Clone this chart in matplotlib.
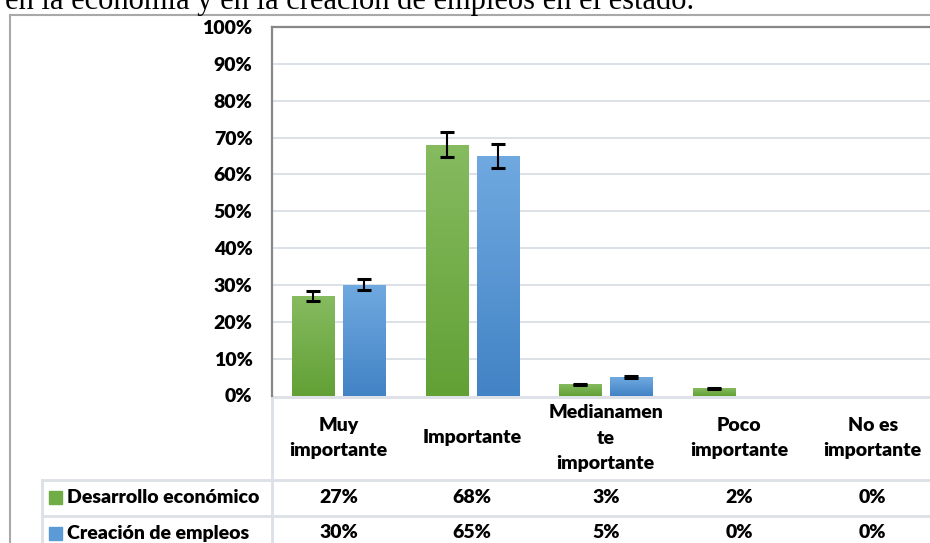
import numpy as np
import matplotlib
matplotlib.use("Agg")
import matplotlib.pyplot as plt
from matplotlib.colors import LinearSegmentedColormap
from matplotlib.transforms import blended_transform_factory

# data (percent)
categorias = ["Muy\nimportante", "Importante", "Medianamen\nte\nimportante",
              "Poco\nimportante", "No es\nimportante"]
series = ["Desarrollo económico", "Creación de empleos"]
desarrollo = [27, 68, 3, 2, 0]
empleos = [30, 65, 5, 0, 0]
err_desarrollo = [1.4, 3.4, 0.2, 0.15, 0]
err_empleos = [1.5, 3.3, 0.3, 0, 0]
titulo = "en la economía y en la creación de empleos en el estado."

W, H = 930, 543
fig = plt.figure(figsize=(W / 100, H / 100), dpi=100)
plt.rcParams["font.family"] = ["Lato", "DejaVu Sans"]
FS = 14

# overlay in pixel coordinates for the frame and the data table
ov = fig.add_axes([0, 0, 1, 1])
ov.set_xlim(0, W)
ov.set_ylim(H, 0)
ov.axis("off")

# plot area (extends past the right edge like the cropped original)
left, right, top, bottom = 272, 939.5, 27, 395.5
ax = fig.add_axes([left / W, (H - bottom) / H, (right - left) / W, (bottom - top) / H])
ax.patch.set_alpha(0)

x = np.arange(len(categorias))
bw = 0.315
off = 0.19
green = LinearSegmentedColormap.from_list("g", ["#62A035", "#86BB60"])
blue = LinearSegmentedColormap.from_list("b", ["#4283C5", "#70A9E0"])
grad = np.linspace(0, 1, 256).reshape(-1, 1)

b1 = ax.bar(x - off, desarrollo, bw, color="#70AD47", zorder=2)
b2 = ax.bar(x + off, empleos, bw, color="#5B9BD5", zorder=2)
for bars, cmap in [(b1, green), (b2, blue)]:
    for b in bars:
        if b.get_height() > 0:
            ax.imshow(grad, cmap=cmap, origin="lower", aspect="auto", zorder=3,
                      extent=[b.get_x(), b.get_x() + b.get_width(), 0, b.get_height()])

for vals, errs, xs in [(desarrollo, err_desarrollo, x - off), (empleos, err_empleos, x + off)]:
    for xi, v, e in zip(xs, vals, errs):
        if v > 0:
            ax.errorbar(xi, v, yerr=e, fmt="none", ecolor="black", elinewidth=1.5,
                        capsize=4.7, capthick=2.2, zorder=4)

ax.set_xlim(-0.5, 4.5)
ax.set_ylim(0, 100)
ax.set_yticks(range(0, 101, 10))
ax.set_yticklabels([f"{t}%" for t in range(0, 101, 10)], fontsize=FS, fontweight="heavy")
ax.tick_params(axis="y", length=0, pad=14)
ax.set_xticks([])
for t in range(10, 100, 10):
    ax.axhline(t, color="#DCE0E7", lw=1.4, zorder=1)
for s in ["right", "bottom"]:
    ax.spines[s].set_visible(False)
for s in ["left", "top"]:
    ax.spines[s].set_color("#878787")
    ax.spines[s].set_linewidth(1.6)

# outer frame
ov.plot([10, 10], [15, H], color="#A9A9A9", lw=1.5)
ov.plot([10, W], [15, 15], color="#A9A9A9", lw=1.5)

# title text, cropped at the top
ov.text(5, 9.5, titulo, family="Liberation Serif", fontsize=22, va="baseline",
        ha="left", color="black")

# data table
tc = "#DCE0E7"
ov.plot([left, W], [396.5, 396.5], color=tc, lw=2)
ov.plot([42, W], [480, 480], color=tc, lw=2)
ov.plot([42, W], [515.5, 515.5], color=tc, lw=2)
ov.plot([left, left], [396, H], color=tc, lw=2)
ov.plot([42, 42], [480, H], color=tc, lw=2)

tr = blended_transform_factory(ax.transData, ov.transData)
for xi, cat in zip(x, categorias):
    ov.text(xi, 438, cat, transform=tr, ha="center", va="center", fontsize=FS,
            fontweight="heavy", linespacing=1.6)
rows_y = [497.5, 533]
colors = ["#70AD47", "#5B9BD5"]
for ry, name, vals, c in zip(rows_y, series, [desarrollo, empleos], colors):
    ov.add_patch(plt.Rectangle((49, ry - 6.5), 13, 13, color=c))
    ov.text(67, ry, name, ha="left", va="center", fontsize=FS, fontweight="heavy")
    for xi, v in zip(x, vals):
        ov.text(xi, ry, f"{v}%", transform=tr, ha="center", va="center",
                fontsize=FS, fontweight="heavy")

fig.savefig("out.png", dpi=100)
